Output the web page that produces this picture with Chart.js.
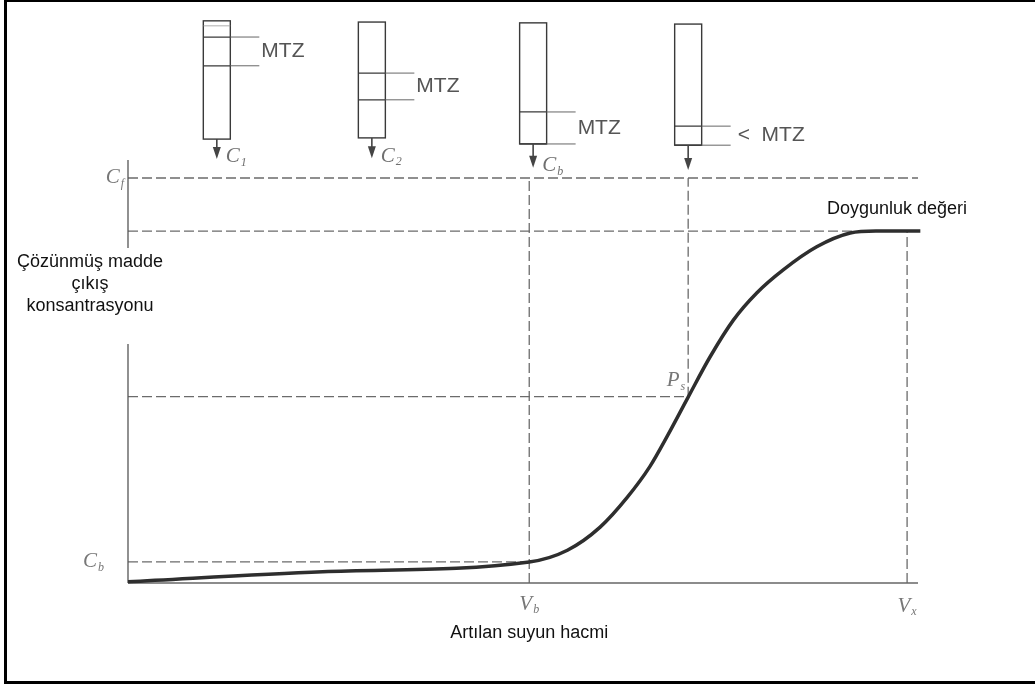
<!DOCTYPE html>
<html>
<head>
<meta charset="utf-8">
<script src="https://cdn.jsdelivr.net/npm/chart.js@4/dist/chart.umd.min.js"></script>
<style>
  html, body { margin: 0; padding: 0; background: #fff; }
  #wrap { position: relative; width: 1035px; height: 688px; }
  #wrap canvas { position: absolute; left: 0; top: 0; }
  #frame {
    position: absolute; left: 4px; top: 0; width: 1031px; height: 684px; box-sizing: border-box;
    border-left: 3px solid #000; border-top: 2px solid #000; border-bottom: 3px solid #000;
    pointer-events: none;
  }
</style>
</head>
<body>
<div id="wrap">
  <canvas id="chart" width="1035" height="688"></canvas>
  <div id="frame"></div>
</div>
<script>
// kırılma eğrisi (hacim, konsantrasyon)
const curveX = [0, 25, 51.5, 56.4, 60.6, 64.1, 67.0, 69.2, 71.9, 74.7, 77.7, 80.7, 84.1, 88.4, 92.7, 96, 101.7];
const curveY = [0.3, 2.8, 5.2, 8.1, 13.8, 21.2, 28.8, 36.2, 45.9, 55.8, 64.9, 71.6, 77.3, 83.0, 86.4, 86.9, 86.9];

// referans seviyeleri
const levelCf = 100;    // C_f
const levelSat = 86.9;  // doygunluk değeri
const levelPs = 46.0;   // P_s
const levelCb = 5.2;    // C_b
const volB = 51.5;      // V_b
const volS = 71.9;      // P_s hacmi
const volX = 100;       // V_x
const xMax = 101.4;
const yMax = 104.44;

// kolon şemaları (üstte): merkez hacmi, üst/alt, MTZ bandı
const columnX = [11.4, 31.3, 52.0, 71.9];
const columnTop = [138.8, 138.5, 138.3, 138.0];
const columnBottom = [109.6, 109.9, 108.4, 108.1];
const bandTop = [134.8, 125.9, 116.3, 112.8];
const bandBottom = [127.7, 119.3, 108.4, 108.1];
const arrowTip = [104.7, 104.9, 102.5, 102.0];
const columnNames = [['C', '1'], ['C', '2'], ['C', 'b'], null];
const mtzTexts = ['MTZ', 'MTZ', 'MTZ', '<  MTZ'];

const yLabelLines = ['Çözünmüş madde', 'çıkış', 'konsantrasyonu'];
const xLabel = 'Artılan suyun hacmi';
const satLabel = 'Doygunluk değeri';

function seg(x1, y1, x2, y2) {
  return [{ x: x1, y: y1 }, { x: x2, y: y2 }];
}

function dashed(data) {
  return {
    data, showLine: true, pointRadius: 0, borderColor: '#6b6b6b', borderWidth: 1.3,
    borderDash: [10, 4], order: 2, clip: false
  };
}

function solid(data, color, width) {
  return { data, showLine: true, pointRadius: 0, borderColor: color, borderWidth: width, order: 1, clip: false };
}

const curveData = curveX.map((v, i) => ({ x: v, y: curveY[i] }));

function drawSub(ctx, base, sub, px, py, align) {
  ctx.font = 'italic 21px "Liberation Serif"';
  const w1 = ctx.measureText(base).width;
  ctx.font = 'italic 12px "Liberation Serif"';
  const w2 = ctx.measureText(sub).width;
  let sx = px;
  if (align === 'right') sx = px - (w1 + w2 + 1);
  if (align === 'center') sx = px - (w1 + w2 + 1) / 2;
  ctx.textAlign = 'left';
  ctx.textBaseline = 'middle';
  ctx.font = 'italic 21px "Liberation Serif"';
  ctx.fillText(base, sx, py);
  ctx.font = 'italic 12px "Liberation Serif"';
  ctx.fillText(sub, sx + w1 + 1, py + 6);
}

const diagramPlugin = {
  id: 'diagram',
  afterDatasetsDraw(chart) {
    const { ctx } = chart;
    const x = chart.scales.x, y = chart.scales.y;
    ctx.save();

    // kolonlar
    columnX.forEach((cv, i) => {
      const cx = x.getPixelForValue(cv);
      const left = cx - 13.5, right = cx + 13.5;
      const top = y.getPixelForValue(columnTop[i]);
      const bot = y.getPixelForValue(columnBottom[i]);
      const bt = y.getPixelForValue(bandTop[i]);
      const bb = y.getPixelForValue(bandBottom[i]);
      const tip = y.getPixelForValue(arrowTip[i]);

      ctx.strokeStyle = '#3a3a3a';
      ctx.lineWidth = 1.4;
      ctx.strokeRect(left, top, right - left, bot - top);
      if (i === 0) {
        ctx.beginPath();
        ctx.moveTo(left, top + 5); ctx.lineTo(right, top + 5);
        ctx.lineWidth = 0.8; ctx.strokeStyle = '#999';
        ctx.stroke();
      }
      ctx.strokeStyle = '#3a3a3a';
      ctx.lineWidth = 1.3;
      ctx.beginPath();
      [bt, bb].forEach(py => { ctx.moveTo(left, py); ctx.lineTo(right, py); });
      ctx.stroke();
      // MTZ köşeli çizgileri
      ctx.strokeStyle = '#666';
      ctx.lineWidth = 1;
      ctx.beginPath();
      [bt, bb].forEach(py => { ctx.moveTo(right, py); ctx.lineTo(right + 29, py); });
      ctx.stroke();

      ctx.fillStyle = '#555';
      ctx.font = '21px "Liberation Sans"';
      ctx.textAlign = 'left';
      ctx.textBaseline = 'middle';
      ctx.fillText(mtzTexts[i], right + (i === 3 ? 36 : 31), (bt + bb) / 2);

      // ok
      ctx.strokeStyle = '#444';
      ctx.fillStyle = '#444';
      ctx.lineWidth = 1.6;
      ctx.beginPath();
      ctx.moveTo(cx, bot); ctx.lineTo(cx, tip - 8);
      ctx.stroke();
      ctx.beginPath();
      ctx.moveTo(cx - 4, tip - 12); ctx.lineTo(cx + 4, tip - 12); ctx.lineTo(cx, tip);
      ctx.closePath();
      ctx.fill();

      if (columnNames[i]) {
        ctx.fillStyle = '#6f6f6f';
        drawSub(ctx, columnNames[i][0], columnNames[i][1], cx + 9, tip - 2, 'left');
      }
    });

    // eksen etiketleri (italik)
    ctx.fillStyle = '#777';
    drawSub(ctx, 'C', 'f', x.left - 4, y.getPixelForValue(levelCf), 'right');
    drawSub(ctx, 'C', 'b', x.left - 24, y.getPixelForValue(levelCb), 'right');
    drawSub(ctx, 'V', 'b', x.getPixelForValue(volB), y.bottom + 21, 'center');
    drawSub(ctx, 'V', 'x', x.getPixelForValue(volX), y.bottom + 23, 'center');
    drawSub(ctx, 'P', 's', x.getPixelForValue(volS) - 3, y.getPixelForValue(levelPs) - 16, 'right');

    // y ekseni başlığı (arka planı beyaz)
    ctx.fillStyle = '#fff';
    ctx.fillRect(14, 248, 158, 96);
    ctx.fillStyle = '#111';
    ctx.font = '18px "Liberation Sans"';
    ctx.textAlign = 'center';
    ctx.textBaseline = 'middle';
    yLabelLines.forEach((t, i) => ctx.fillText(t, 90, 262 + i * 22));

    // x ekseni başlığı
    ctx.fillText(xLabel, x.getPixelForValue(volB), y.bottom + 50);

    // doygunluk etiketi
    ctx.textAlign = 'left';
    ctx.fillText(satLabel, 827, 209);

    ctx.restore();
  }
};

new Chart(document.getElementById('chart').getContext('2d'), {
  type: 'scatter',
  data: {
    datasets: [
      {
        data: curveData, showLine: true, pointRadius: 0, borderColor: '#2e2e2e', borderWidth: 3.5,
        cubicInterpolationMode: 'monotone', order: 0, clip: false
      },
      solid(seg(0, 0, xMax, 0), '#666', 1.4),
      solid(seg(0, 0, 0, yMax), '#555', 1.3),
      dashed(seg(0, levelCf, xMax, levelCf)),
      dashed(seg(0, levelSat, 93, levelSat)),
      dashed(seg(0, levelPs, volS, levelPs)),
      dashed(seg(0, levelCb, volB, levelCb)),
      dashed(seg(volB, 0, volB, levelCf)),
      dashed(seg(volS, levelPs, volS, levelCf)),
      dashed(seg(volX, 0, volX, levelSat))
    ]
  },
  options: {
    responsive: false,
    animation: false,
    layout: { padding: { left: 128, right: 117, top: 160, bottom: 105 } },
    scales: {
      x: { type: 'linear', min: 0, max: xMax, display: false },
      y: { type: 'linear', min: 0, max: yMax, display: false }
    },
    plugins: { legend: { display: false }, tooltip: { enabled: false } }
  },
  plugins: [diagramPlugin]
});
</script>
</body>
</html>
